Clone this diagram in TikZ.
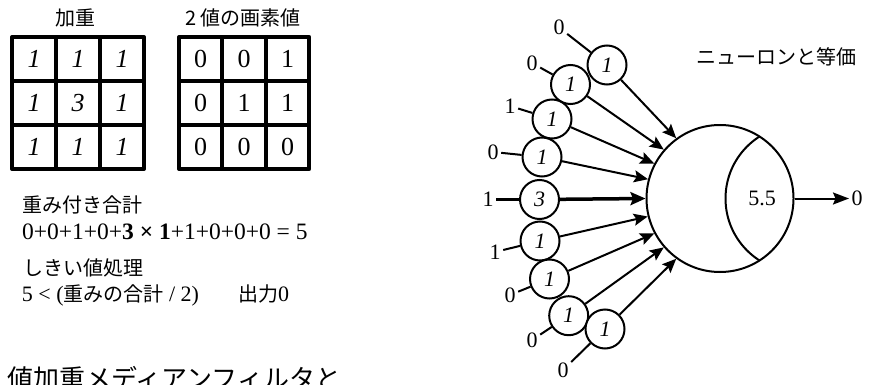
\documentclass[tikz,border=0pt]{standalone}
\usepackage{fontspec}
\setmainfont{Liberation Serif}
\newfontfamily\jp{Noto Sans CJK JP}
\usetikzlibrary{arrows.meta}

\begin{document}
\begin{tikzpicture}[x=1pt, y=-1pt,
  cell/.style={draw, line width=4pt, line join=round, minimum height=44pt,
    minimum width=44pt, inner sep=0pt, font=\fontsize{26}{26}\selectfont},
  pcell/.style={cell, minimum width=43.4pt},
  jtext/.style={inner sep=0pt, font=\jp\fontsize{20}{20}\selectfont},
  mtext/.style={inner sep=0pt, font=\fontsize{22}{22}\selectfont},
  weight/.style={draw, circle, line width=2pt, minimum size=39pt, inner sep=0pt,
    fill=white, font=\fontsize{22}{22}\selectfont\itshape},
  inval/.style={inner sep=2.5pt, font=\fontsize{22}{22}\selectfont},
  wire/.style={line width=2pt},
  feed/.style={line width=2pt, -{Stealth[length=14pt, width=12pt, inset=2.5pt]}},
]
\clip (0,0) rectangle (869,385);

% --- weight mask ---
\node[jtext] (wtitle) at (75,18) {加重};
\foreach \r/\y/\a/\b/\d in {1/59/1/1/1, 2/103/1/3/1, 3/147/1/1/1} {
  \node[cell] (w\r1) at (34,\y) {\itshape \a};
  \node[cell] (w\r2) at (78,\y) {\itshape \b};
  \node[cell] (w\r3) at (122,\y) {\itshape \d};
}

% --- binary pixel values ---
\node[jtext] (ptitle) at (243,18) {2 値の画素値};
\foreach \r/\y/\a/\b/\d in {1/59/0/0/1, 2/103/0/1/1, 3/147/0/0/0} {
  \node[pcell] (p\r1) at (200.7,\y) {\a};
  \node[pcell] (p\r2) at (244.1,\y) {\b};
  \node[pcell] (p\r3) at (287.5,\y) {\d};
}

% --- calculation text ---
\node[jtext, anchor=west] (sumlbl) at (22,205) {重み付き合計};
\node[anchor=west, inner sep=0pt, font=\fontsize{23.5}{23.5}\selectfont] (sumeq) at (22,232)
  {0+0+1+0+\textbf{3 × 1}+1+0+0+0 = 5};
\node[jtext, anchor=west] (thrlbl) at (23,268) {しきい値処理};
\node[mtext, anchor=west] (threq) at (21.7,295)
  {5 < ({\jp\fontsize{20}{20}\selectfont 重みの合計} / 2)\hspace{39pt}{\jp\fontsize{20}{20}\selectfont 出力}0};

\node[inner sep=0pt, anchor=base west, font=\jp\fontsize{26}{26}\selectfont] (caption) at (7,388)
  {値加重メディアンフィルタと};

% --- equivalent neuron ---
\node[jtext] (ntitle) at (776.5,57) {ニューロンと等価};

\node[draw, circle, line width=2pt, minimum size=147pt, inner sep=0pt] (neuron) at (720,198.5) {};
\begin{scope}
  \clip (neuron.center) circle (73.5);
  \draw[line width=2pt] (799,198.5) circle (73.5);
\end{scope}
\node[mtext] (thr) at (762,198.5) {5.5};

\node[inval, anchor=west] (out) at (849,198.5) {0};
\draw[line width=2pt, -{Stealth[length=16pt, width=12pt, inset=2.5pt]}] (neuron.east) -- (out);

% weighted inputs: value, weight circle, tip angle on the neuron
\foreach \i/\lx/\ly/\v/\cx/\cy/\w/\ang in {
    1/559/27.5/0/607/65/1/126,
    2/532/63/0/570.5/84.5/1/139,
    3/510/106/1/552/119/1/152,
    4/493/152/0/542/157/1/165.5,
    6/495/252/1/540/241/1/194.5,
    7/510/295/0/549.5/279/1/208,
    8/532/340/0/568.7/315.7/1/221,
    9/563/370/0/605/329/1/234} {
  \node[inval] (x\i) at (\lx,\ly) {\v};
  \node[weight] (c\i) at (\cx,\cy) {\w};
  \draw[wire] (x\i) -- (c\i);
  \draw[feed] (c\i) -- (neuron.\ang);
}
% centre input carries the heavy weight
\node[inval] (x5) at (488,199.5) {1};
\node[weight] (c5) at (539.5,199.5) {3};
\draw[line width=3.5pt] (x5) -- (c5);
\draw[line width=3.5pt, -{Stealth[length=15pt, width=13pt, inset=2.5pt]}] (c5) -- (neuron.180);
\end{tikzpicture}
\end{document}
